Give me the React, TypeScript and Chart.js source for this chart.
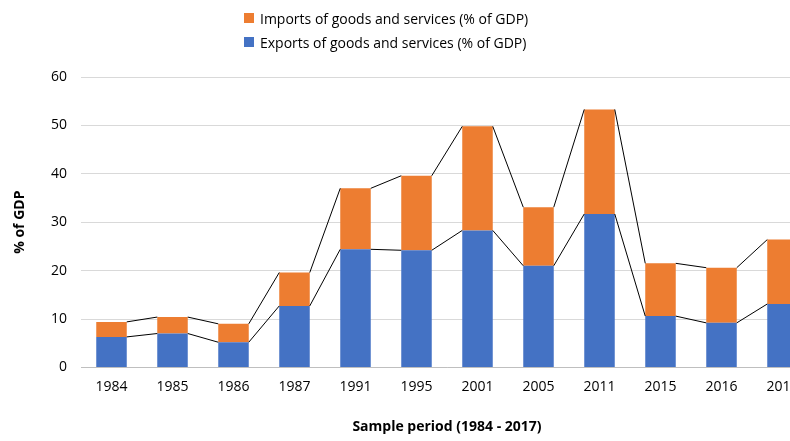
import { useRef, useEffect } from 'react';
import { Chart, registerables } from 'chart.js';

Chart.register(...registerables);

const years = ['1984', '1985', '1986', '1987', '1991', '1995', '2001', '2005', '2011', '2015', '2016', '2017'];
const exportsPct = [6.3, 7.0, 5.2, 12.7, 24.4, 24.2, 28.3, 21.0, 31.7, 10.6, 9.2, 13.1];
const totalPct = [9.4, 10.4, 9.0, 19.6, 37.0, 39.6, 49.8, 33.1, 53.3, 21.5, 20.6, 26.4];
const importsPct = totalPct.map((t, i) => +(t - exportsPct[i]).toFixed(1));

const FONT = '"Open Sans", "Liberation Sans", sans-serif';

// Excel style series lines: right edge of one bar top to left edge of next
const seriesLines = {
    id: 'seriesLines',
    afterDatasetsDraw(chart: any) {
        const ctx = chart.ctx;
        ctx.save();
        ctx.strokeStyle = '#000';
        ctx.lineWidth = 1;
        chart.data.datasets.forEach((_: any, di: number) => {
            const bars = chart.getDatasetMeta(di).data;
            ctx.beginPath();
            for (let i = 0; i < bars.length - 1; i++) {
                const a = bars[i], b = bars[i + 1];
                ctx.moveTo(a.x + a.width / 2, a.y);
                ctx.lineTo(b.x - b.width / 2, b.y);
            }
            ctx.stroke();
        });
        ctx.restore();
    }
};

const App = () => {
    const canvasRef = useRef(null);
    const chartRef = useRef(null);

    useEffect(() => {
        document.body.style.margin = '0';
        document.body.style.overflow = 'hidden';
        if (!canvasRef.current) return;
        if (chartRef.current) chartRef.current.destroy();

        chartRef.current = new Chart(canvasRef.current, {
            type: 'bar',
            data: {
                labels: years,
                datasets: [
                    { label: 'Exports of goods and services (% of GDP)', data: exportsPct, backgroundColor: '#4472c4' },
                    { label: 'Imports of goods and services (% of GDP)', data: importsPct, backgroundColor: '#ed7d31' },
                ]
            },
            plugins: [seriesLines],
            options: {
                responsive: true,
                maintainAspectRatio: false,
                animation: false,
                layout: { padding: { top: 77, right: 0, left: 8, bottom: 2 } },
                datasets: { bar: { categoryPercentage: 1, barPercentage: 0.5 } },
                plugins: { legend: { display: false }, tooltip: { enabled: false } },
                scales: {
                    x: {
                        stacked: true,
                        grid: { display: false },
                        border: { color: '#bfbfbf' },
                        ticks: { color: '#000', font: { family: FONT, size: 14 } },
                        title: { display: true, text: 'Sample period (1984 - 2017)', color: '#000', font: { family: FONT, size: 14, weight: 'bold' }, padding: { top: 20 } }
                    },
                    y: {
                        stacked: true,
                        min: 0, max: 60,
                        afterFit: (s: any) => { s.width = 73; },
                        ticks: { stepSize: 10, color: '#000', padding: 14, font: { family: FONT, size: 14 } },
                        grid: { color: '#d9d9d9', tickLength: 0 },
                        border: { display: false },
                        title: { display: true, text: '% of GDP', color: '#000', font: { family: FONT, size: 14, weight: 'bold' } }
                    }
                }
            }
        });

        return () => { if (chartRef.current) chartRef.current.destroy(); };
    }, []);

    const item = (color: string, text: string) => (
        <div style={{ display: 'flex', alignItems: 'center', gap: 6, height: 24 }}>
            <span style={{ width: 10, height: 10, background: color, display: 'inline-block' }}></span>
            <span>{text}</span>
        </div>
    );

    return (
        <div style={{ position: 'relative', width: 813, height: 441, fontFamily: FONT, fontSize: 14 }}>
            <canvas ref={canvasRef}></canvas>
            <div style={{ position: 'absolute', top: 6, left: 244, display: 'flex', flexDirection: 'column' }}>
                {item('#ed7d31', 'Imports of goods and services (% of GDP)')}
                {item('#4472c4', 'Exports of goods and services (% of GDP)')}
            </div>
        </div>
    );
};

export default App;
